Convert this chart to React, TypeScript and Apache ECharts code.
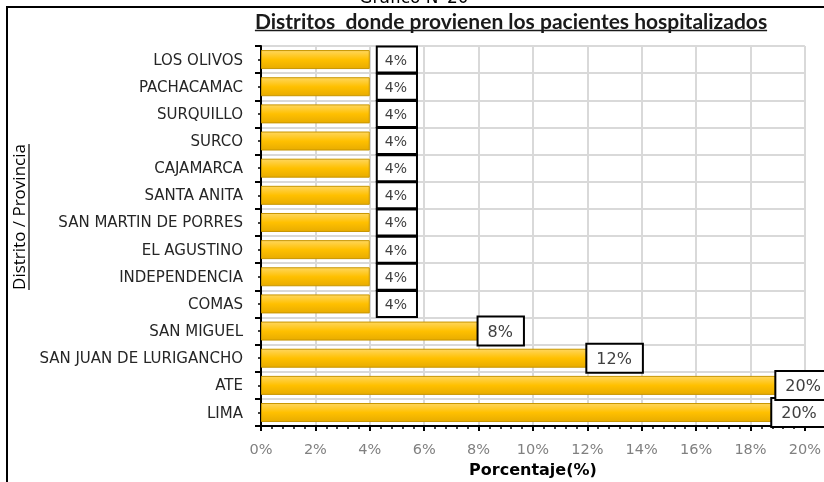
import React, { useEffect, useRef } from "react";
import * as echarts from "echarts";

const categories = [
  "LIMA",
  "ATE",
  "SAN JUAN DE LURIGANCHO",
  "SAN MIGUEL",
  "COMAS",
  "INDEPENDENCIA",
  "EL AGUSTINO",
  "SAN MARTIN DE PORRES",
  "SANTA ANITA",
  "CAJAMARCA",
  "SURCO",
  "SURQUILLO",
  "PACHACAMAC",
  "LOS OLIVOS",
];
const values = [18.8, 18.95, 12, 8, 4, 4, 4, 4, 4, 4, 4, 4, 4, 4];
const valueLabels = ["20%", "20%", "12%", "8%", "4%", "4%", "4%", "4%", "4%", "4%", "4%", "4%", "4%", "4%"];
const xMin = 0;
const xMax = 20;
const xStep = 2;

const chartTitle = "Distritos  donde provienen los pacientes hospitalizados";
const topCaption = "Gráfico N°20";
const yName = "Distrito / Provincia";
const xName = "Porcentaje(%)";

const WIDE = "'DejaVu Sans', Verdana, sans-serif";

function measure(text: string, font: string): number {
  const c = document.createElement("canvas").getContext("2d");
  if (!c) return text.length * 8;
  c.font = font;
  return c.measureText(text).width;
}

export default function App() {
  const ref = useRef<HTMLDivElement>(null);
  useEffect(() => {
    if (!ref.current) return;
    const chart = echarts.init(ref.current, undefined, { renderer: "svg" });

    const titleW = measure(chartTitle, "bold 21px Lato");
    const titleX = 511;
    const yNameW = measure(yName, "17px 'Open Sans'");
    const yNameCY = 217;

    const barGradient = new echarts.graphic.LinearGradient(0, 0, 0, 1, [
      { offset: 0, color: "#FFD65C" },
      { offset: 0.5, color: "#FFC000" },
      { offset: 1, color: "#E8AC00" },
    ]);

    const data = values.map((v, i) => {
      const small = valueLabels[i] === "4%";
      return {
        value: v,
        label: small
          ? { distance: 8, fontSize: 14, lineHeight: 16, padding: [4, 9, 4, 7] }
          : { distance: 0, fontSize: 16, lineHeight: 21, padding: [3, 10, 3, 9] },
      };
    });

    chart.setOption({
      animation: false,
      textStyle: { fontFamily: WIDE },
      grid: { left: 261, right: 19, top: 46, bottom: 48, containLabel: false },
      xAxis: {
        type: "value",
        min: xMin,
        max: xMax,
        interval: xStep,
        axisLine: { show: true, lineStyle: { color: "#000", width: 2 } },
        axisTick: { show: true, length: 5, lineStyle: { color: "#000", width: 2 } },
        minorTick: { show: true, splitNumber: 5, length: 3, lineStyle: { color: "#000", width: 1.5 } },
        splitLine: { show: true, lineStyle: { color: "#d9d9d9", width: 2 } },
        axisLabel: { formatter: "{value}%", color: "#808080", fontSize: 14.5, margin: 15, fontFamily: WIDE },
        name: xName,
        nameLocation: "middle",
        nameGap: 33,
        nameTextStyle: { fontWeight: "bold", fontSize: 16, color: "#000", fontFamily: WIDE },
      },
      yAxis: [
        {
          type: "category",
          data: categories,
          axisLine: { show: true, lineStyle: { color: "#000", width: 2 } },
          axisTick: { show: true, length: 6, lineStyle: { color: "#000", width: 2 } },
          splitLine: { show: true, lineStyle: { color: "#d9d9d9", width: 2 } },
          axisLabel: { color: "#262626", fontSize: 15, margin: 18, fontFamily: WIDE },
        },
        {
          type: "category",
          data: categories,
          position: "left",
          axisLine: { show: false },
          axisTick: { show: true, alignWithLabel: true, length: 3, lineStyle: { color: "#000", width: 1.5 } },
          axisLabel: { show: false },
          splitLine: { show: false },
        },
      ],
      series: [
        {
          type: "bar",
          yAxisIndex: 0,
          data,
          barWidth: 19,
          itemStyle: { color: barGradient, borderColor: "#C89600", borderWidth: 1 },
          label: {
            show: true,
            position: "right",
            formatter: (p: any) => valueLabels[p.dataIndex],
            color: "#404040",
            backgroundColor: "#fff",
            borderColor: "#000",
            borderWidth: 2,
            fontFamily: WIDE,
          },
          z: 3,
        },
      ],
      graphic: [
        {
          type: "rect",
          silent: true,
          z: -10,
          shape: { x: 7, y: 7, width: 900, height: 600 },
          style: { fill: "none", stroke: "#000", lineWidth: 2 },
        },
        {
          type: "text",
          x: 414,
          y: 5,
          style: { text: topCaption, fontSize: 17, fontFamily: WIDE, fill: "#000", align: "center", verticalAlign: "bottom" },
        },
        {
          type: "text",
          x: titleX,
          y: 20,
          style: { text: chartTitle, fontSize: 21, fontWeight: "bold", fontFamily: "Lato", fill: "#1a1a1a", align: "center", verticalAlign: "middle" },
        },
        {
          type: "line",
          shape: { x1: titleX - titleW / 2, y1: 30.5, x2: titleX + titleW / 2, y2: 30.5 },
          style: { stroke: "#1a1a1a", lineWidth: 1.5 },
        },
        {
          type: "text",
          x: 18,
          y: yNameCY,
          rotation: Math.PI / 2,
          style: { text: yName, fontSize: 17, fontFamily: "'Open Sans'", fill: "#000", align: "center", verticalAlign: "middle" },
        },
        {
          type: "line",
          shape: { x1: 29, y1: yNameCY - yNameW / 2, x2: 29, y2: yNameCY + yNameW / 2 },
          style: { stroke: "#000", lineWidth: 1.2 },
        },
      ],
    });
    return () => chart.dispose();
  }, []);
  return <div ref={ref} style={{ position: "fixed", left: 0, top: 0, width: 824, height: 482 }} />;
}
